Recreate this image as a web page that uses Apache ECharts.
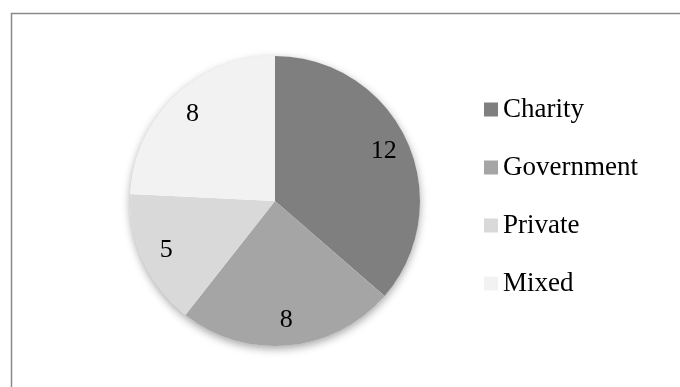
<!DOCTYPE html>
<html>
<head>
<meta charset="utf-8">
<script src="https://cdn.jsdelivr.net/npm/echarts@6/dist/echarts.min.js"></script>
<style>
html,body{margin:0;padding:0;background:#fff;}
#c{width:680px;height:387px;}
</style>
</head>
<body>
<div id="c"></div>
<script>
var categories = ['Charity', 'Government', 'Private', 'Mixed'];
var values = [12, 8, 5, 8];
var colors = ['#7f7f7f', '#a5a5a5', '#d9d9d9', '#f2f2f2'];

var FONT = '"Liberation Serif", "Times New Roman", serif';
var center = [275, 201];
var R = 145;

var mainData = categories.map(function (c, i) {
  return { name: c, value: values[i], itemStyle: { color: colors[i] } };
});
var labelData = categories.map(function (c, i) {
  return { name: c, value: values[i] };
});

var chart = echarts.init(document.getElementById('c'), null, { renderer: 'canvas' });
chart.setOption({
  animation: false,
  backgroundColor: '#ffffff',
  graphic: [{
    type: 'rect',
    silent: true,
    shape: { x: 11.5, y: 13.5, width: 720, height: 420 },
    style: { fill: 'none', stroke: '#8a8a8a', lineWidth: 1.5 },
    z: 100
  }],
  legend: {
    orient: 'vertical',
    left: 484,
    top: 96,
    padding: 0,
    data: categories,
    icon: 'rect',
    itemWidth: 14,
    itemHeight: 14,
    itemGap: 31,
    selectedMode: false,
    textStyle: { fontFamily: FONT, fontSize: 27, color: '#000', lineHeight: 26 }
  },
  series: [
    {
      type: 'pie',
      silent: true,
      center: center,
      radius: [0, R],
      label: { show: false },
      labelLine: { show: false },
      itemStyle: { color: '#ffffff', shadowBlur: 8, shadowOffsetY: 3, shadowColor: 'rgba(0,0,0,0.35)' },
      data: [{ name: 'bg', value: 1 }],
      z: 1
    },
    {
      type: 'pie',
      silent: true,
      center: center,
      radius: [0, R],
      startAngle: 90,
      clockwise: true,
      label: { show: false },
      labelLine: { show: false },
      itemStyle: { borderWidth: 0 },
      data: mainData,
      z: 2
    },
    {
      type: 'pie',
      silent: true,
      center: center,
      radius: [88, R],
      startAngle: 90,
      clockwise: true,
      itemStyle: { color: 'rgba(0,0,0,0)', borderWidth: 0 },
      label: {
        show: true,
        position: 'inside',
        formatter: '{c}',
        fontFamily: FONT,
        fontSize: 26,
        color: '#000'
      },
      labelLine: { show: false },
      data: labelData,
      z: 3
    }
  ]
});
</script>
</body>
</html>
